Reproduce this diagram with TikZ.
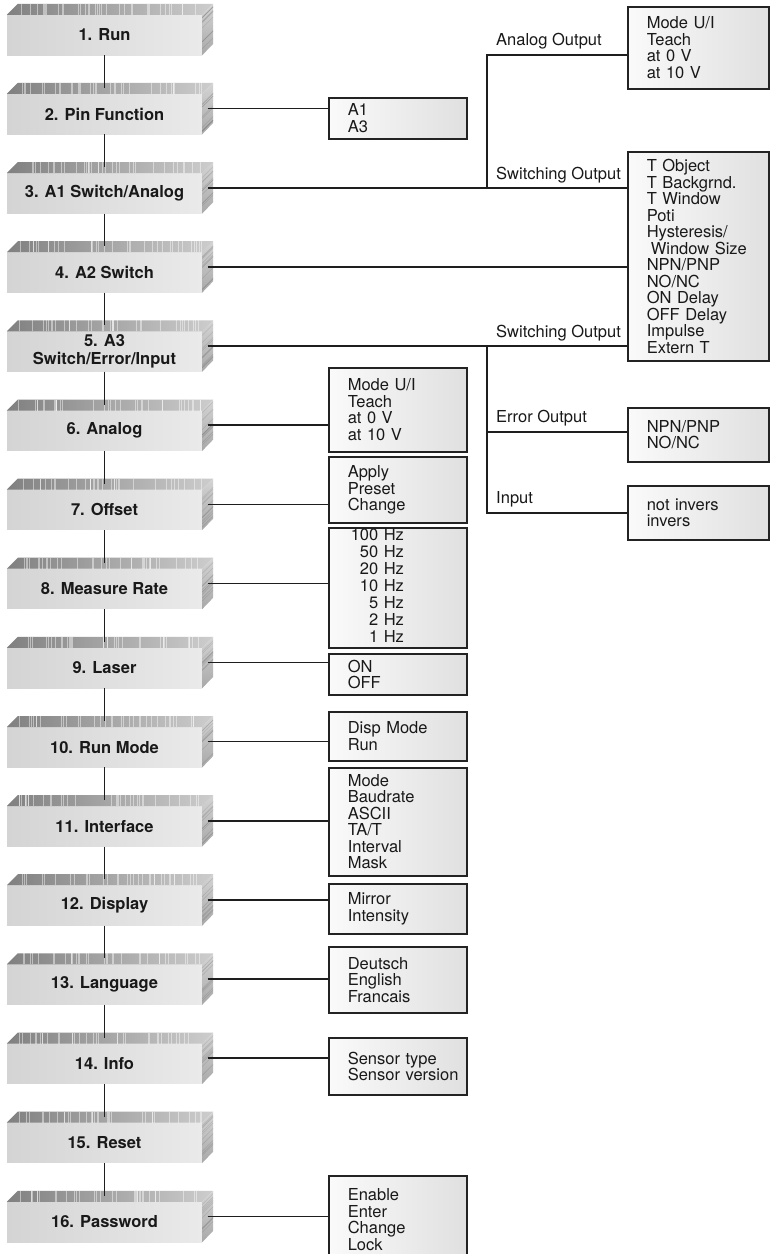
\documentclass[tikz,border=0pt]{standalone}
\usepackage{fontspec}
\setmainfont{TeX Gyre Heros}
\usetikzlibrary{calc}
\definecolor{frontL}{RGB}{212,212,212}
\definecolor{frontR}{RGB}{234,234,234}
\definecolor{bevL}{RGB}{128,128,128}
\definecolor{bevR}{RGB}{205,205,205}
\definecolor{sideT}{RGB}{212,212,212}
\definecolor{sideB}{RGB}{168,168,168}
\definecolor{subL}{RGB}{250,250,250}
\definecolor{subR}{RGB}{224,224,224}
\definecolor{boxline}{RGB}{35,35,35}
\definecolor{connc}{RGB}{30,30,30}
\definecolor{textc}{RGB}{25,25,25}
\hyphenpenalty=10000
\begin{document}
\begin{tikzpicture}[x=1pt,y=-1pt,
  mainbox/.style={rectangle, minimum width=195pt, minimum height=40pt, inner sep=0pt, align=center,
    font=\fontsize{16.5}{18}\selectfont\bfseries, left color=frontL, right color=frontR, text=textc},
  subbox/.style={rectangle, draw=boxline, line width=1.6pt, left color=subL, right color=subR,
    anchor=north west, inner xsep=19pt, inner ysep=0pt, align=left,
    font=\fontsize{16.5}{16.5}\selectfont, text=textc},
  lcol/.style={subbox, text width=100pt},
  rcol/.style={subbox, text width=103pt},
  conn/.style={draw=connc, line width=1.5pt},
  lbl/.style={anchor=base west, inner sep=0pt, font=\fontsize{16.5}{16.5}\selectfont, text=textc}
]
\fill[white] (0,0) rectangle (770,1254);
\useasboundingbox (0,0) rectangle (770,1254);

% main menu boxes
\node[mainbox] (m1)  at (104.5,35)    {1. Run};
\node[mainbox] (m2)  at (104.5,114.1) {2. Pin Function};
\node[mainbox] (m3)  at (104.5,193.3) {3. A1 Switch/Analog};
\node[mainbox] (m4)  at (104.5,272.4) {4. A2 Switch};
\node[mainbox] (m5)  at (104.5,351.5) {5. A3\\Switch/Error/Input};
\node[mainbox] (m6)  at (104.5,430.7) {6. Analog};
\node[mainbox] (m7)  at (104.5,509.8) {7. Offset};
\node[mainbox] (m8)  at (104.5,588.9) {8. Measure Rate};
\node[mainbox] (m9)  at (104.5,668.0) {9. Laser};
\node[mainbox] (m10) at (104.5,747.2) {10. Run Mode};
\node[mainbox] (m11) at (104.5,826.3) {11. Interface};
\node[mainbox] (m12) at (104.5,905.4) {12. Display};
\node[mainbox] (m13) at (104.5,984.6) {13. Language};
\node[mainbox] (m14) at (104.5,1063.7) {14. Info};
\node[mainbox] (m15) at (104.5,1142.8) {15. Reset};
\node[mainbox] (m16) at (104.5,1222.0) {16. Password};

% 3D bevels
\pgfmathsetseed{42}
\foreach \i in {1,...,16}{
  \shade[left color=bevL, right color=bevR] (m\i.north west) -- ++(11,-11)
     -- ([shift={(11,-11)}]m\i.north east) -- (m\i.north east) -- cycle;
  \shade[top color=sideT, bottom color=sideB] (m\i.north east) -- ++(11,-11)
     -- ++(0,40) -- (m\i.south east) -- cycle;
  \foreach \k in {1,...,34}{
    \pgfmathsetmacro\sx{11+184*rnd}
    \draw[white, opacity=0.45, line width=0.6pt] ([xshift=\sx pt]m\i.north west) -- ++(0,-11);
  }
  \foreach \k in {1,...,10}{
    \pgfmathsetmacro\sy{2+36*rnd}
    \draw[black, opacity=0.10, line width=0.6pt] ([shift={(0,\sy)}]m\i.north east) -- ++(11,-11);
  }
}

% sub-option boxes
\node[lcol, minimum height=41pt]  (r2)  at (328,97)   {A1\\A3};
\node[rcol, minimum height=82pt]  (rAO) at (627,6)    {Mode U/I\\Teach\\at 0 V\\at 10 V};
\node[rcol, minimum height=209pt] (rSW) at (627,151)  {T Object\\T Backgrnd.\\T Window\\Poti\\Hysteresis/\\\hspace*{4pt}\mbox{Window Size}\\NPN/PNP\\NO/NC\\ON Delay\\OFF Delay\\Impulse\\Extern T};
\node[rcol, minimum height=54pt]  (rERR) at (627,407) {NPN/PNP\\NO/NC};
\node[rcol, minimum height=54pt]  (rIN) at (627,485)  {not invers\\invers};
\node[lcol, minimum height=84pt]  (r6)  at (328,367)  {Mode U/I\\Teach\\at 0 V\\at 10 V};
\node[lcol, minimum height=66pt]  (r7)  at (328,456)  {Apply\\Preset\\Change};
\node[lcol, minimum height=120pt] (r8)  at (328,527)  {\hspace*{3pt}\begin{tabular}{@{}r@{}}100 Hz\\50 Hz\\20 Hz\\10 Hz\\5 Hz\\2 Hz\\1 Hz\end{tabular}};
\node[lcol, minimum height=41pt]  (r9)  at (328,653)  {ON\\OFF};
\node[lcol, minimum height=49pt]  (r10) at (328,711)  {Disp Mode\\Run};
\node[lcol, minimum height=108pt] (r11) at (328,767)  {Mode\\Baudrate\\ASCII\\TA/T\\Interval\\Mask};
\node[lcol, minimum height=50pt]  (r12) at (328,883)  {Mirror\\Intensity};
\node[lcol, minimum height=66pt]  (r13) at (328,946)  {Deutsch\\English\\Francais};
\node[lcol, minimum height=57pt]  (r14) at (328,1037) {Sensor type\\\mbox{Sensor version}};
\node[lcol, minimum height=88pt]  (r16) at (328,1175) {Enable\\Enter\\Change\\Lock};

% branch labels
\node[lbl] (lAO)  at (496,45)  {Analog Output};
\node[lbl] (lSW1) at (496,179) {Switching Output};
\node[lbl] (lSW2) at (496,337) {Switching Output};
\node[lbl] (lERR) at (496,422) {Error Output};
\node[lbl] (lIN)  at (496,503) {Input};

% connectors
\foreach \i in {2,...,14,16}{
  \coordinate (s\i) at ([shift={(5.5,-5.5)}]m\i.east);
}
\foreach \i [evaluate=\i as \j using int(\i+1)] in {1,...,15}{
  \draw[conn] (m\i.south) -- ([yshift=6pt]m\j.north);
}
\coordinate (vx) at (487,0);
\draw[conn] (s2) -- (s2 -| r2.west);
\draw[conn] (s3) -- (s3 -| rSW.west);
\draw[conn] (s4) -- (s4 -| rSW.west);
\draw[conn] (s5) -- (s5 -| rSW.west);
\draw[conn] (s3 -| vx) |- ([yshift=-7pt]rAO.west);
\draw[conn] (s5 -| vx) |- (rIN.west);
\draw[conn] (s5 -| vx) |- ([yshift=3pt]rERR.west);
\foreach \i in {6,...,14,16}{
  \draw[conn] (s\i) -- (s\i -| r\i.west);
}
\end{tikzpicture}
\end{document}
